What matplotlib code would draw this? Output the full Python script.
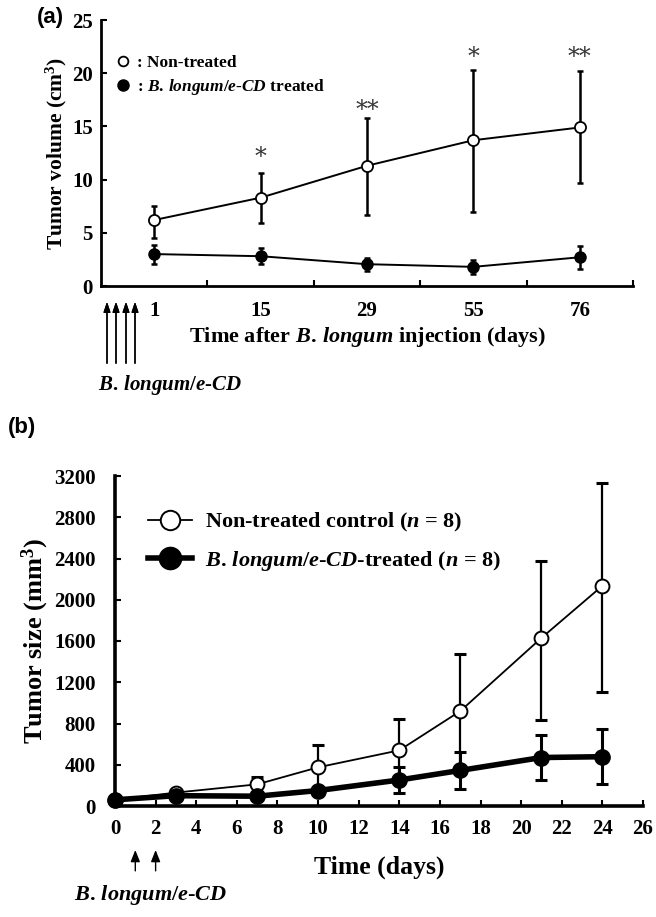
import matplotlib
matplotlib.use("Agg")
import matplotlib.pyplot as plt
from matplotlib.lines import Line2D
import numpy as np

plt.rcParams.update({
    "font.family": ["Liberation Serif", "DejaVu Serif"],
    "font.weight": "bold",
    "axes.labelweight": "bold",
    "mathtext.fontset": "custom",
    "mathtext.rm": "Liberation Serif:bold",
    "mathtext.it": "Liberation Serif:bold:italic",
    "mathtext.bf": "Liberation Serif:bold",
    "axes.linewidth": 2.0,
})

# ---------------- Panel (a) data ----------------
a_days = ["1", "15", "29", "55", "76"]
a_nt_mean = [6.2, 8.3, 11.3, 13.7, 14.9]
a_nt_lo = [1.7, 2.35, 4.6, 6.7, 5.25]
a_nt_hi = [1.35, 2.3, 4.5, 6.6, 5.3]
a_tr_mean = [3.0, 2.8, 2.05, 1.8, 2.7]
a_tr_err = [0.9, 0.75, 0.6, 0.65, 1.1]
a_sig = ["*", "**", "*", "**"]
a_sig_idx = [1, 2, 3, 4]
a_sig_y = [12.1, 16.5, 21.5, 21.5]
a_yticks = [0, 5, 10, 15, 20, 25]

# ---------------- Panel (b) data ----------------
b_days = [0, 3, 7, 10, 14, 17, 21, 24]
b_nt_mean = [60, 130, 210, 375, 540, 920, 1630, 2135]
b_nt_lo = [0, 0, 75, 220, 300, 555, 795, 1025]
b_nt_hi = [0, 0, 75, 220, 300, 555, 750, 995]
b_tr_mean = [60, 100, 95, 150, 252, 345, 470, 478]
b_tr_err = [0, 0, 0, 0, 125, 180, 215, 267]
b_yticks = [0, 400, 800, 1200, 1600, 2000, 2400, 2800, 3200]
b_xticks = list(range(0, 27, 2))
b_inject_days = [1, 2]

LONGUM = r"$B.\,longum/e$-$CD$"

W, H = 656, 917
fig = plt.figure(figsize=(W / 100, H / 100), dpi=100)

def fx(px):
    return px / W

def fy(py):
    return 1 - py / H

arrow_a = dict(arrowstyle="-|>,head_length=0.6,head_width=0.2", lw=1.0, color="black")
arrow_b = dict(arrowstyle="-|>,head_length=0.7,head_width=0.28", lw=1.0, color="black")

# ================= Panel (a) =================
axa = fig.add_axes([fx(101), fy(286), fx(633) - fx(101), fy(20) - fy(286)])
xa = np.arange(len(a_days))
axa.errorbar(xa, a_nt_mean, yerr=[a_nt_lo, a_nt_hi], fmt="none", ecolor="black",
             elinewidth=1.8, capsize=2.5, capthick=1.8, zorder=2)
axa.errorbar(xa, a_tr_mean, yerr=a_tr_err, fmt="none", ecolor="black",
             elinewidth=1.8, capsize=2.5, capthick=1.8, zorder=2)
axa.plot(xa, a_nt_mean, "-o", color="black", lw=1.4, ms=8, mfc="white", mec="black",
         mew=1.3, zorder=3)
axa.plot(xa, a_tr_mean, "-o", color="black", lw=1.4, ms=8, mfc="black", mec="black",
         zorder=3)
for i, s, y in zip(a_sig_idx, a_sig, a_sig_y):
    axa.text(xa[i], y, s, ha="center", va="center", fontsize=17,
             family=["DejaVu Serif"], fontweight="normal", color="#333333")

axa.set_xlim(-0.5, 4.5)
axa.set_ylim(0, 25)
axa.spines["top"].set_visible(False)
axa.spines["right"].set_visible(False)
axa.set_xticks(xa)
axa.set_xticklabels(a_days)
axa.set_xticks(np.arange(0.5, 4.6, 1.0), minor=True)
axa.tick_params(axis="x", which="major", length=0, pad=11, labelsize=15)
axa.tick_params(axis="x", which="minor", direction="in", length=4, width=1.5)
axa.set_yticks(a_yticks)
axa.tick_params(axis="y", direction="in", length=4, width=1.5, pad=6, labelsize=15)
axa.set_ylabel("Tumor volume (cm$^3$)", fontsize=15.5, labelpad=2)
axa.set_xlabel(r"Time after $B.\,longum$ injection (days)", fontsize=16, labelpad=3)

ha = [Line2D([], [], ls="none", marker="o", ms=7, mfc="white", mec="black", mew=1.3),
      Line2D([], [], ls="none", marker="o", ms=8, mfc="black", mec="black")]
axa.legend(ha, [": Non-treated", r": $B.\,longum/e$-$CD$ treated"], loc="upper left",
           bbox_to_anchor=(0.015, 0.895), frameon=False, fontsize=12.5,
           handlelength=0.8, handletextpad=0.4, labelspacing=0.35, borderaxespad=0)

fig.text(fx(37), fy(18), "(a)", family=["Liberation Sans"], fontweight="bold",
         fontsize=16, ha="left", va="center")

for px in [107, 116, 126, 135]:
    fig.add_artist(plt.annotate("", xy=(fx(px), fy(299)), xytext=(fx(px), fy(366)),
                                xycoords="figure fraction", textcoords="figure fraction",
                                arrowprops=arrow_a))
fig.text(fx(170), fy(385), LONGUM, ha="center", va="center", fontsize=15)

# ================= Panel (b) =================
axb = fig.add_axes([fx(115), fy(806), fx(643) - fx(115), fy(476) - fy(806)])
axb.errorbar(b_days, b_nt_mean, yerr=[b_nt_lo, b_nt_hi], fmt="none", ecolor="black",
             elinewidth=1.6, capsize=4, capthick=2.2, zorder=2, clip_on=False)
axb.errorbar(b_days, b_tr_mean, yerr=b_tr_err, fmt="none", ecolor="black",
             elinewidth=2.2, capsize=4, capthick=2.2, zorder=2, clip_on=False)
axb.plot(b_days, b_nt_mean, "-o", color="black", lw=1.3, ms=10, mfc="white", mec="black",
         mew=1.4, zorder=3, clip_on=False)
axb.plot(b_days, b_tr_mean, "-o", color="black", lw=4.0, ms=11, mfc="black", mec="black",
         zorder=4, clip_on=False)

axb.set_xlim(0, 26)
axb.set_ylim(0, 3200)
axb.spines["top"].set_visible(False)
axb.spines["right"].set_visible(False)
axb.spines["left"].set_linewidth(2.6)
axb.spines["bottom"].set_linewidth(2.6)
axb.set_xticks(b_xticks)
axb.set_yticks(b_yticks)
axb.tick_params(axis="x", direction="in", length=4, width=1.5, pad=9, labelsize=15)
axb.tick_params(axis="y", direction="in", length=4, width=1.5, pad=14, labelsize=15)
axb.set_ylabel("Tumor size (mm$^3$)", fontsize=19, labelpad=2)
axb.set_xlabel("Time (days)", fontsize=18.5, labelpad=12)

hb = [Line2D([], [], color="black", lw=1.3, marker="o", ms=14, mfc="white", mec="black", mew=1.4),
      Line2D([], [], color="black", lw=4.0, marker="o", ms=16, mfc="black", mec="black")]
axb.legend(hb, ["Non-treated control ($n$ = 8)", LONGUM + "-treated ($n$ = 8)"],
           loc="upper left", bbox_to_anchor=(0.045, 0.92), frameon=False, fontsize=16,
           handlelength=2.0, handletextpad=0.6, labelspacing=0.65, borderaxespad=0)

fig.text(fx(8), fy(428), "(b)", family=["Liberation Sans"], fontweight="bold",
         fontsize=16, ha="left", va="center")

for d in b_inject_days:
    axb.annotate("", xy=(d, -0.125), xytext=(d, -0.205),
                 xycoords=("data", "axes fraction"), textcoords=("data", "axes fraction"),
                 arrowprops=arrow_b, annotation_clip=False)
fig.text(fx(151), fy(895), LONGUM, ha="center", va="center", fontsize=16)

fig.savefig("out.png", dpi=100)
